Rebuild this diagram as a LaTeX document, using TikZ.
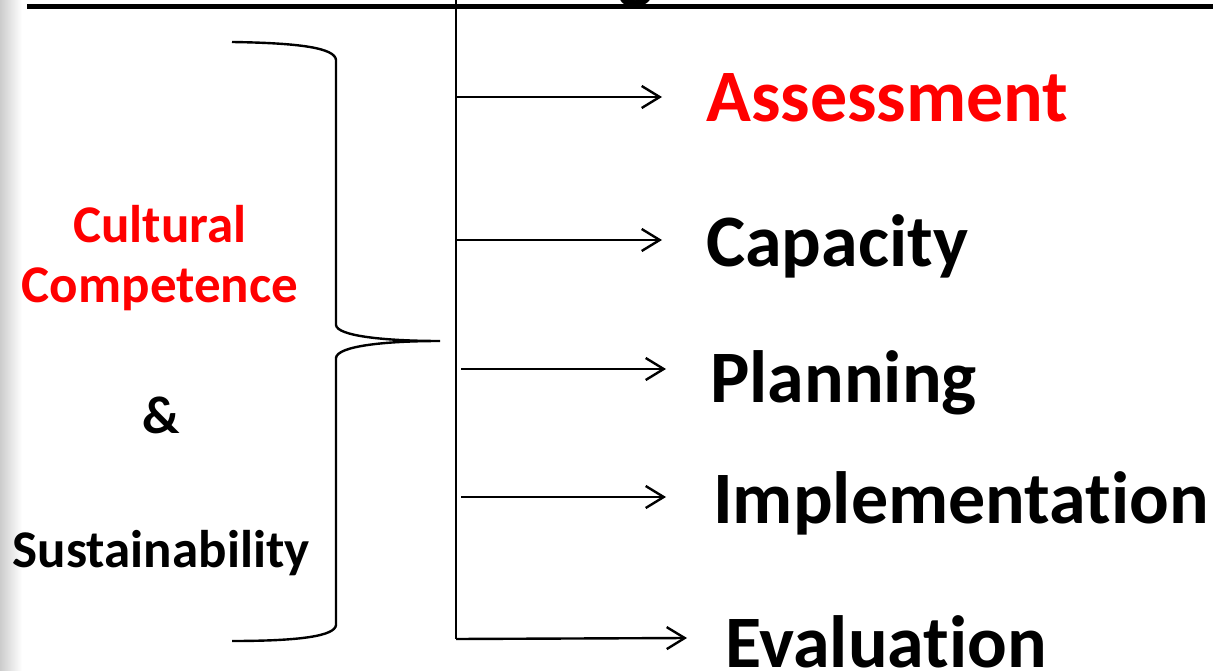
\documentclass[tikz,border=0pt]{standalone}
\usepackage{fontspec}
\setmainfont{Carlito}[Ligatures=NoCommon]
\usetikzlibrary{arrows.meta}
\tikzset{
  side/.style = {inner sep=0pt, anchor=base, font=\fontsize{53}{60}\selectfont\bfseries},
  stage/.style = {inner sep=0pt, anchor=base west, font=\fontsize{74}{80}\selectfont\bfseries},
  arr/.style = {-{Straight Barb[length=18pt,width=22pt,line width=2.4pt]}, line width=2.4pt}
}
\begin{document}
\begin{tikzpicture}[x=1pt,y=-1pt,line width=2.4pt]
\useasboundingbox (0,0) rectangle (1213,671);
\shade[left color=black!20, right color=white] (0,0) rectangle (22,671);
% cut-off title
\node [inner sep=0pt, anchor=base, font=\fontsize{74}{80}\selectfont\bfseries] (ttl) at (636,-5) {g};
\draw [line width=5.5pt] (27,6.5) -- (1213,6.5);
% left labels
\node [side, red] (cul) at (160,243) {Cultural};
\node [side, red] (com) at (160,302) {Competence};
\node [side] (amp) at (161,433) {\&};
\node [side] (sus) at (161,567) {Sustainability};
% brace
\coordinate (tip) at (440,341);
\draw (232,42) .. controls (300,43) and (335,48) .. (336,60) -- (336,325)
  .. controls (337,336) and (385,341) .. (tip)
  .. controls (385,341) and (337,346) .. (336,358) -- (336,625)
  .. controls (335,636) and (300,641) .. (232,641);
% spine
\coordinate (top) at (456,0);
\coordinate (bot) at (456,639);
\draw (top) -- (bot);
% stages
\node [stage, red] (ass) at (705,122) {Assessment};
\node [stage] (cap) at (705,266) {Capacity};
\node [stage] (pla) at (709,402) {Planning};
\node [stage] (imp) at (712,523) {Implementation};
\node [stage] (eva) at (724,667) {Evaluation};
\coordinate (s1) at (456,97);  \coordinate (e1) at (662,97);
\coordinate (s2) at (456,240); \coordinate (e2) at (662,240);
\coordinate (s3) at (461,369); \coordinate (e3) at (666,369);
\coordinate (s4) at (461,497); \coordinate (e4) at (666,497);
\coordinate (e5) at (687,638);
\draw [arr] (s1) -- (e1);
\draw [arr] (s2) -- (e2);
\draw [arr] (s3) -- (e3);
\draw [arr] (s4) -- (e4);
\draw [arr] (bot) -- (e5);
\end{tikzpicture}
\end{document}
